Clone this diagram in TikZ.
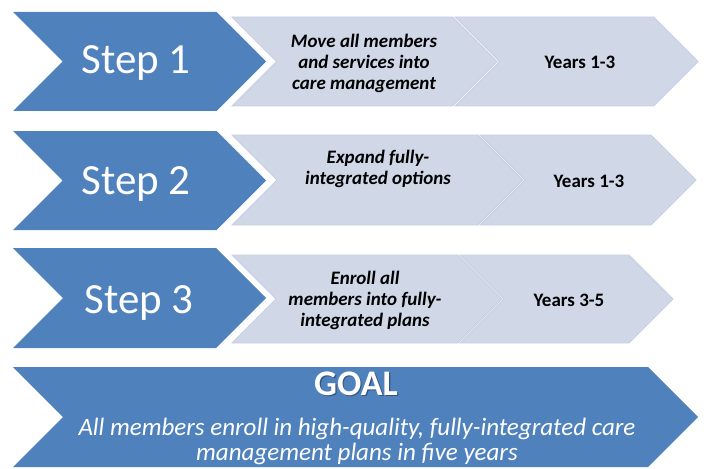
\documentclass[tikz,border=0pt]{standalone}
\usepackage{fontspec}
\setmainfont{Carlito}
\definecolor{chevblue}{HTML}{4F81BD}
\definecolor{chevlight}{HTML}{D0D8E8}
\definecolor{chevedge}{HTML}{C6CFE2}
\newcommand\mychev[5]{%
  \pgfmathsetmacro\chd{(#5-#4)/2}%
  \pgfmathsetmacro\chm{(#5+#4)/2}%
  \path[#1] (#2,#4) -- ({#3-\chd},#4) -- (#3,\chm) -- ({#3-\chd},#5) -- (#2,#5) -- ({#2+\chd},\chm) -- cycle;%
}
\tikzset{
  bluechev/.style={fill=chevblue},
  lightchev/.style={fill=chevlight, draw=chevedge, line width=0.8pt, line join=miter},
  steptext/.style={text=white, inner sep=0pt, font=\fontsize{43}{50}\selectfont},
  desctext/.style={text=black, inner sep=0pt, align=center, font=\fontsize{19}{21}\selectfont\bfseries\itshape},
  yeartext/.style={text=black, inner sep=0pt, font=\fontsize{19}{21}\selectfont\bfseries},
  goaltitle/.style={text=white, inner sep=0pt, font=\fontsize{36}{40}\selectfont\bfseries},
  goaltext/.style={text=white, inner sep=0pt, align=center, font=\fontsize{25}{25}\selectfont\itshape},
}
\begin{document}
\begin{tikzpicture}[x=1pt, y=-1pt]
\useasboundingbox (0,0) rectangle (706,468);
% row 1
\mychev{bluechev}{13}{266}{12}{111}
\mychev{lightchev}{232}{497}{17}{106}
\mychev{lightchev}{455}{698}{17}{106}
\node[steptext, anchor=base] (s1) at (136,74) {Step 1};
\node[desctext] (d1) at (364,63) {Move all members\\and services into\\care management};
\node[yeartext, anchor=base] (y1) at (580,69) {Years 1-3};
% row 2
\mychev{bluechev}{13}{266}{131}{230}
\mychev{lightchev}{232}{523}{135}{225}
\mychev{lightchev}{480}{696}{135}{225}
\node[steptext, anchor=base] (s2) at (136,194) {Step 2};
\node[desctext] (d2) at (378,169) {Expand fully-\\integrated options};
\node[yeartext, anchor=base] (y2) at (589,187) {Years 1-3};
% row 3
\mychev{bluechev}{13}{266}{248}{348}
\mychev{lightchev}{232}{502}{255}{343}
\mychev{lightchev}{460}{673}{255}{343}
\node[steptext, anchor=base] (s3) at (139,313) {Step 3};
\node[desctext] (d3) at (365,300) {Enroll all\\members into fully-\\integrated plans};
\node[yeartext, anchor=base] (y3) at (569,306) {Years 3-5};
% goal
\mychev{bluechev}{13}{698}{367}{467}
\node[goaltitle, anchor=base, text=black, opacity=0.35] (gshadow) at (357.2,396.2) {GOAL};
\node[goaltitle, anchor=base] (gt) at (356,395) {GOAL};
\node[goaltext] (gx) at (357,441) {All members enroll in high-quality, fully-integrated care\\management plans in five years};
\end{tikzpicture}
\end{document}
